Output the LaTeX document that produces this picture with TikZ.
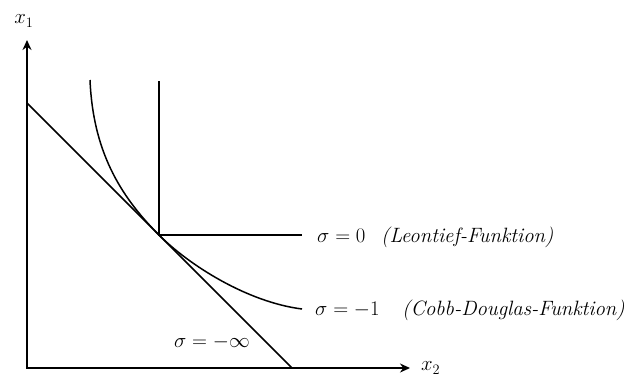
\documentclass[tikz,border=0pt]{standalone}
\usetikzlibrary{arrows.meta,positioning}

\begin{document}
\begin{tikzpicture}[x=1pt,y=-1pt,
    axis/.style={line width=1.5pt,{Stealth[length=10pt,width=9pt]}-{Stealth[length=10pt,width=9pt]}},
    isoq/.style={line width=1.5pt},
    lbl/.style={font=\huge,inner sep=0pt}]
\useasboundingbox (0,0) rectangle (639,381);

    % Achsen
    \coordinate (O) at (27,368);
    \coordinate (ytop) at (27,40);
    \coordinate (xend) at (410,368);
    \draw[axis] (ytop) -- (O) -- (xend);
    \node[lbl] (x1) at (24,21) {$x_1$};
    \node[lbl,anchor=west] (x2) at (421,368) {$x_2$};

    % sigma = -infinity (lineare Isoquante)
    \coordinate (linA) at (27,103);
    \coordinate (linB) at (292,368);
    \draw[isoq] (linA) -- (linB);
    \node[lbl] (sinf) at (212,342) {$\sigma = -\infty$};

    % sigma = 0 (Leontief)
    \coordinate (kink) at (159,235);
    \coordinate (leoTop) at (159,81);
    \coordinate (leoEnd) at (302,235);
    \draw[isoq] (leoTop) -- (kink) -- (leoEnd);
    \node[lbl,anchor=west] (s0) at (317,236) {$\sigma = 0$};
    \node[lbl,anchor=west] (leon) at (381,237) {\textit{(Leontief-Funktion)}};

    % sigma = -1 (Cobb-Douglas)
    \coordinate (cdTop) at (90,80);
    \coordinate (cdEnd) at (302,309);
    \draw[isoq] (cdTop) .. controls (93,150) and (119,195) .. (kink)
        .. controls (189,265) and (247,302) .. (cdEnd);
    \node[lbl,anchor=west] (s1) at (315,310) {$\sigma = -1$};
    \node[lbl,anchor=west] (cobb) at (402,310) {\textit{(Cobb-Douglas-Funktion)}};
\end{tikzpicture}
\end{document}
